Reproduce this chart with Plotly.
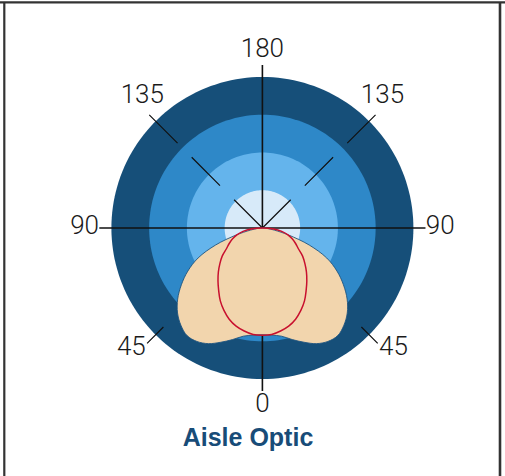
import plotly.graph_objects as go

# ---------------- data ----------------
angles = [0, 5, 10, 15, 20, 25, 30, 35, 40, 45, 50, 55, 60, 65, 70, 75, 80, 85, 90]
batwing_r = [283, 285, 291, 306, 322, 338, 347, 348, 336, 318, 293, 262, 228, 188, 132, 72, 32, 11, 0]
narrow_r = [284, 283, 277, 269, 257, 241, 223, 202, 183, 165, 147, 130, 110, 97, 84, 70, 52, 30, 0]
ring_levels = [400, 300, 200, 100]
ring_colors = ["#164f79", "#2e88c8", "#64b4ec", "#d7eaf9"]
tick_angles = [0, 45, 90, 135, 180, 225, 270, 315]
tick_labels = ["0", "45", "90", "135", "180", "135", "90", "45"]
title_text = "Aisle Optic"

R_MAX = 480
LINE_R = 432
LABEL_R = 471
LABEL_NUDGE = 2.5  # degrees, diagonal labels sit slightly off their ray


def mirror(th, r):
    t = [-a for a in th[::-1]] + th[1:]
    rr = r[::-1] + r[1:]
    return t, rr


fig = go.Figure()

# background rings
circ = list(range(0, 361, 2))
for lvl, col in zip(ring_levels, ring_colors):
    fig.add_trace(go.Scatterpolar(r=[lvl] * len(circ), theta=circ, mode="lines",
                                  fill="toself", fillcolor=col, line=dict(width=0, color=col),
                                  hoverinfo="skip", showlegend=False))

# axis lines (solid for 0/90/180/270, dashed diagonals)
for a in tick_angles:
    if a % 90 == 0:
        dash, w = "solid", 1.6
    elif a in (135, 225):
        dash, w = "40px,20px", 1.2
    else:
        dash, w = "0px,20px,40px,0px", 1.2
    fig.add_trace(go.Scatterpolar(r=[0, LINE_R], theta=[a, a], mode="lines",
                                  line=dict(color="#111111", width=w, dash=dash),
                                  cliponaxis=False, hoverinfo="skip", showlegend=False))

# batwing distribution
t, r = mirror(angles, batwing_r)
fig.add_trace(go.Scatterpolar(r=r, theta=t, mode="lines", fill="toself",
                              fillcolor="#f2d5ad", line=dict(color="#1f5580", width=0.9, shape="spline"),
                              hoverinfo="skip", showlegend=False))

# narrow distribution
t, r = mirror(angles, narrow_r)
fig.add_trace(go.Scatterpolar(r=r, theta=t, mode="lines",
                              line=dict(color="#c8102e", width=1.5, shape="spline"),
                              hoverinfo="skip", showlegend=False))

# tick labels
label_theta = []
for a in tick_angles:
    if a % 90 == 0:
        label_theta.append(a)
    elif a < 180:
        label_theta.append(a + LABEL_NUDGE)
    else:
        label_theta.append(a - LABEL_NUDGE)
fig.add_trace(go.Scatterpolar(r=[LABEL_R] * len(tick_angles), theta=label_theta,
                              mode="text", text=tick_labels, textposition="middle center",
                              textfont=dict(family="Roboto", size=26, color="#1a1a1a", weight=300),
                              cliponaxis=False, hoverinfo="skip", showlegend=False))

cx, cy, rad = 262.4, 228.0, R_MAX * 151.0 / 400.0
W, H = 505, 476
fig.update_layout(
    width=W, height=H,
    margin=dict(l=0, r=0, t=0, b=0),
    paper_bgcolor="white",
    showlegend=False,
    polar=dict(
        domain=dict(x=[(cx - rad) / W, (cx + rad) / W],
                    y=[(H - cy - rad) / H, (H - cy + rad) / H]),
        bgcolor="rgba(0,0,0,0)",
        radialaxis=dict(visible=False, range=[0, R_MAX]),
        angularaxis=dict(visible=False, rotation=-90, direction="counterclockwise"),
    ),
    title=dict(text=title_text, x=248 / W, xanchor="center", y=1 - 437 / H, yanchor="middle",
               xref="paper", yref="container",
               font=dict(family="Liberation Sans, Arial", size=25, color="#184c78", weight="bold")),
    shapes=[
        dict(type="line", xref="paper", yref="paper", x0=0, x1=1, y0=1 - 2.3 / H, y1=1 - 2.3 / H,
             line=dict(color="#333333", width=2.2)),
        dict(type="line", xref="paper", yref="paper", x0=4.3 / W, x1=4.3 / W, y0=0, y1=1 - 2.3 / H,
             line=dict(color="#333333", width=2.2)),
        dict(type="line", xref="paper", yref="paper", x0=500 / W, x1=500 / W, y0=0, y1=1 - 2.3 / H,
             line=dict(color="#333333", width=2.6)),
    ],
)

fig.write_html("out.html", config={"displayModeBar": False},
               post_script="document.body.style.margin='0';document.body.style.overflow='hidden';")
